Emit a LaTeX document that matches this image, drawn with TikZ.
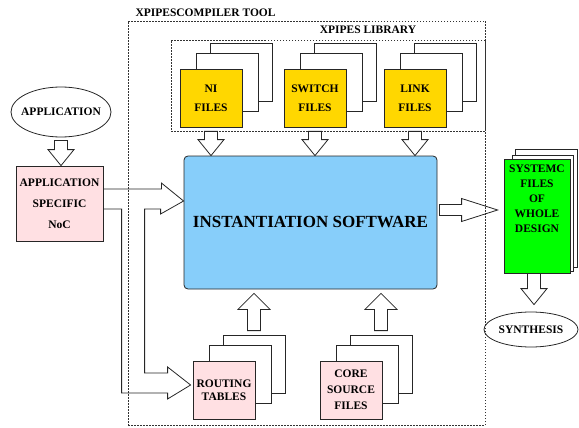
\documentclass[tikz,border=0pt]{standalone}
\usepackage{fontspec}
\setmainfont{Liberation Serif}
\usetikzlibrary{calc,shapes.geometric}
\definecolor{filegold}{HTML}{FFD700}
\definecolor{swblue}{HTML}{87CEFA}
\definecolor{nocpink}{HTML}{FFE0E3}
\definecolor{sysgreen}{HTML}{00FF00}
\tikzset{
	lbl/.style={font=\fontsize{11.5}{#1}\selectfont\bfseries, align=center},
	lbl/.default=14,
	page/.style={draw=black!85, line width=0.8pt, fill=white, inner sep=0pt,
			minimum width=62pt, minimum height=58pt},
	groupbox/.style={draw=black!80, line width=0.8pt, dash pattern=on 1.5pt off 1.5pt, inner sep=0pt},
	blockarrow/.style={draw=black!85, line width=0.8pt, line join=miter},
	bubble/.style={ellipse, draw=black!85, line width=0.8pt, inner ysep=0pt}
}
% fat arrow: start, tip, shaft half width, head half width, head length
\newcommand{\fatarrow}[5]{
	\coordinate (fa-h) at ($(#2)!#5!(#1)$);
	\draw[blockarrow] ($(#1)!#3!-90:(#2)$) -- ($(fa-h)!#3!-90:(#2)$) -- ($(fa-h)!#4!-90:(#2)$)
		-- (#2) -- ($(fa-h)!#4!90:(#2)$) -- ($(fa-h)!#3!90:(#2)$) -- ($(#1)!#3!90:(#2)$) -- cycle;
}
% stack of three files: name, front centre, fill, text, line skip
\newcommand{\filestack}[5]{
	\node[page, xshift=30pt, yshift=26pt] (#13) at (#2) {};
	\node[page, xshift=16pt, yshift=16pt] (#12) at (#2) {};
	\node[page, fill=#3, lbl=#5] (#1) at (#2) {#4};
}

\begin{document}
\begin{tikzpicture}[x=1pt,y=-1pt]
	\useasboundingbox (0,0) rectangle (579,428);
	% groups
	\node[groupbox, minimum width=357pt, minimum height=404pt] (tool) at (306.5,223) {};
	\node[groupbox, minimum width=314pt, minimum height=91pt] (lib) at (328,85.5) {};
	\node[lbl, anchor=west] (tool-lbl) at (132,13) {XPIPESCOMPILER TOOL};
	\node[lbl] (lib-lbl) at (368,30) {XPIPES LIBRARY};

	% files
	\filestack{ni}{211,98}{filegold}{NI\\FILES}{19}
	\filestack{sw}{315,98}{filegold}{SWITCH\\FILES}{19}
	\filestack{lk}{415,98}{filegold}{LINK\\FILES}{19}
	\filestack{rt}{224,390}{nocpink}{ROUTING\\TABLES}{13}
	\filestack{core}{351,390}{nocpink}{CORE\\SOURCE\\FILES}{16}

	\node[draw=black!85, line width=0.8pt, fill=swblue, rounded corners=4pt,
		minimum width=253pt, minimum height=133pt,
		font=\fontsize{17}{20}\selectfont\bfseries] (inst) at (310.5,222.5) {INSTANTIATION SOFTWARE};

	\node[bubble, inner xsep=-6pt, minimum width=100pt, minimum height=50pt, lbl] (app) at (61,112) {APPLICATION};
	\node[page, fill=nocpink, minimum width=87pt, minimum height=75pt, lbl=21] (noc) at (59.5,203.5)
		{APPLICATION\\SPECIFIC\\NoC};

	% output
	\node[page, minimum width=62pt, minimum height=118pt] (sysc3) at (546,208) {};
	\node[page, minimum width=61pt, minimum height=116pt] (sysc2) at (542.5,213) {};
	\node[page, fill=sysgreen, minimum width=66pt, minimum height=114pt] (sysc) at (537,216) {};
	\node[lbl=15] (sysc-txt) at ($(sysc)+(0,-17)$) {SYSTEMC\\FILES\\OF\\WHOLE\\DESIGN};
	\node[bubble, inner xsep=0pt, minimum width=94pt, minimum height=35pt, lbl] (synth) at (531,329.5) {SYNTHESIS};

	% block arrows
	\coordinate (app-out) at ($(app.south)+(0,3)$);
	\coordinate (noc-in) at (app-out |- noc.north);
	\fatarrow{app-out}{noc-in}{6.5pt}{13pt}{16pt}
	\foreach \f in {ni,sw,lk}{
		\coordinate (\f-out) at (\f.south |- lib.south);
		\coordinate (\f-in) at (\f.south |- inst.north);
		\fatarrow{\f-out}{\f-in}{6.5pt}{13pt}{16pt}
	}
	\foreach \f in {rt,core}{
		\coordinate (\f-out) at ($(\f3.north)+(0,-4)$);
		\coordinate (\f-in) at ($(\f3.north |- inst.south)+(0,4)$);
		\fatarrow{\f-out}{\f-in}{6.5pt}{16pt}{16pt}
	}
	\coordinate (inst-out) at ($(inst.east)+(2,-12.5)$);
	\coordinate (sysc-in) at ($(inst-out -| sysc.west)+(-6,0)$);
	\fatarrow{inst-out}{sysc-in}{5.5pt}{11.5pt}{36pt}
	\coordinate (sysc-out) at ($(sysc.south)+(-3,0)$);
	\coordinate (synth-in) at ($(sysc-out |- synth.north)+(0,-7)$);
	\fatarrow{sysc-out}{synth-in}{6.5pt}{13pt}{16pt}

	% forked arrow to software and routing tables
	\coordinate (tip1) at ($(inst.west)+(0,-21.5)$);
	\coordinate (tip2) at ($(rt.west)+(-2,-5)$);
	\draw[blockarrow] ($(noc.east)+(0,-14.5)$) -- ++(58,0) -- ++(0,-6) -- (tip1) -- ++(-23,13)
		-- ++(0,-5) -- ++(-16,0) |- ($(tip2)+(-23,-12)$) -- ++(0,-6) -- (tip2) -- ++(-23,14)
		-- ++(0,-6) -- ++(-46,0) |- ($(noc.east)+(0,5.5)$);
\end{tikzpicture}
\end{document}
